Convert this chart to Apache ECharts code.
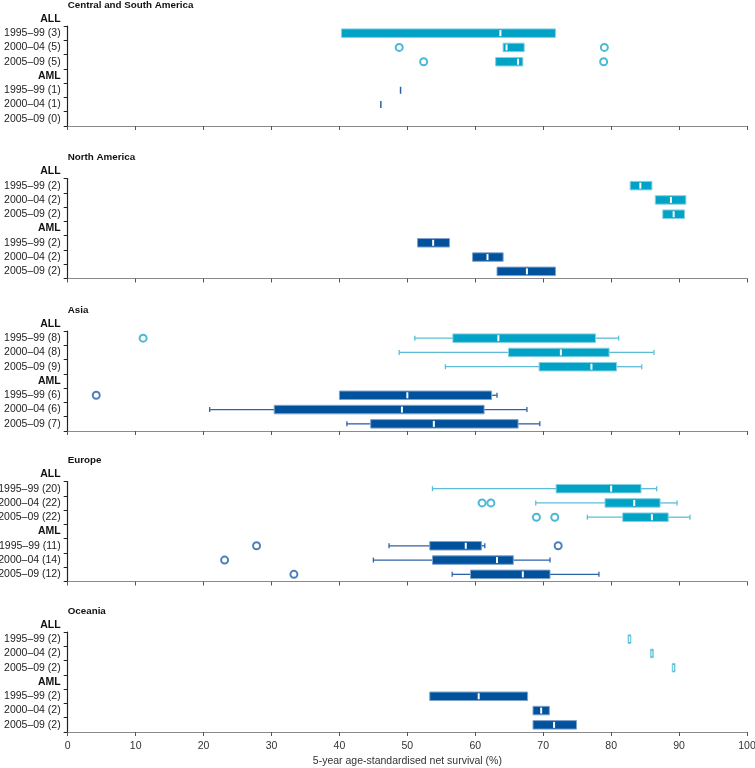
<!DOCTYPE html>
<html>
<head>
<meta charset="utf-8">
<script src="https://cdn.jsdelivr.net/npm/echarts@6/dist/echarts.min.js"></script>
<style>html,body{margin:0;padding:0;background:#fff}#c{width:755px;height:768px}</style>
</head>
<body>
<div id="c"></div>
<script>
// ---------- DATA ----------
const regions = ['Central and South America', 'North America', 'Asia', 'Europe', 'Oceania'];
const rowLabels = [
  ['1995–99 (3)', '2000–04 (5)', '2005–09 (5)', 'AML', '1995–99 (1)', '2000–04 (1)', '2005–09 (0)'],
  ['1995–99 (2)', '2000–04 (2)', '2005–09 (2)', 'AML', '1995–99 (2)', '2000–04 (2)', '2005–09 (2)'],
  ['1995–99 (8)', '2000–04 (8)', '2005–09 (9)', 'AML', '1995–99 (6)', '2000–04 (6)', '2005–09 (7)'],
  ['1995–99 (20)', '2000–04 (22)', '2005–09 (22)', 'AML', '1995–99 (11)', '2000–04 (14)', '2005–09 (12)'],
  ['1995–99 (2)', '2000–04 (2)', '2005–09 (2)', 'AML', '1995–99 (2)', '2000–04 (2)', '2005–09 (2)']
];
const xTicks = [0, 10, 20, 30, 40, 50, 60, 70, 80, 90, 100];
const xTitle = '5-year age-standardised net survival (%)';

// box rows: [row index, low whisker, Q1, median, Q3, high whisker]
const csaAll = [[0, 40.3, 40.3, 63.7, 71.8, 71.8], [1, 64.1, 64.1, 64.6, 67.2, 67.2], [2, 63.0, 63.0, 66.3, 67.0, 67.0]];
const csaAml = [[4, 49.0, 49.0, 49.0, 49.0, 49.0], [5, 46.1, 46.1, 46.1, 46.1, 46.1]];
const naAll = [[0, 82.8, 82.8, 84.3, 86.0, 86.0], [1, 86.5, 86.5, 88.8, 91.0, 91.0], [2, 87.6, 87.6, 89.2, 90.8, 90.8]];
const naAml = [[4, 51.5, 51.5, 53.8, 56.2, 56.2], [5, 59.6, 59.6, 61.8, 64.1, 64.1], [6, 63.2, 63.2, 67.6, 71.8, 71.8]];
const asiaAll = [[0, 51.1, 56.7, 63.4, 77.7, 81.1], [1, 48.8, 64.9, 72.6, 79.7, 86.3], [2, 55.6, 69.4, 77.1, 80.8, 84.5]];
const asiaAml = [[4, 40.0, 40.0, 50.0, 62.4, 63.2], [5, 20.9, 30.4, 49.2, 61.3, 67.6], [6, 41.1, 44.6, 53.9, 66.3, 69.5]];
const euAll = [[0, 53.7, 71.9, 80.0, 84.4, 86.7], [1, 68.9, 79.1, 83.4, 87.2, 89.7], [2, 76.5, 81.7, 86.0, 88.4, 91.6]];
const euAml = [[4, 47.3, 53.3, 58.6, 60.9, 61.4], [5, 45.0, 53.7, 63.2, 65.6, 71.0], [6, 56.6, 59.3, 67.0, 71.0, 78.2]];
const ocAll = [[0, 82.5, 82.5, 82.7, 82.9, 82.9], [1, 85.8, 85.8, 86.0, 86.2, 86.2], [2, 89.0, 89.0, 89.2, 89.4, 89.4]];
const ocAml = [[4, 53.3, 53.3, 60.5, 67.7, 67.7], [5, 68.5, 68.5, 69.7, 70.9, 70.9], [6, 68.5, 68.5, 71.6, 74.9, 74.9]];

// outliers: [value, row index]
const csaAllOut = [[48.8, 1], [79.0, 1], [52.4, 2], [78.9, 2]];
const csaAmlOut = [];
const naAllOut = [];
const naAmlOut = [];
const asiaAllOut = [[11.1, 0]];
const asiaAmlOut = [[4.2, 4]];
const euAllOut = [[61.0, 1], [62.3, 1], [69.0, 2], [71.7, 2]];
const euAmlOut = [[27.8, 4], [72.2, 4], [23.1, 5], [33.3, 6]];
const ocAllOut = [];
const ocAmlOut = [];

const allBoxes = [csaAll, naAll, asiaAll, euAll, ocAll];
const amlBoxes = [csaAml, naAml, asiaAml, euAml, ocAml];
const allOut = [csaAllOut, naAllOut, asiaAllOut, euAllOut, ocAllOut];
const amlOut = [csaAmlOut, naAmlOut, asiaAmlOut, euAmlOut, ocAmlOut];

// ---------- STYLE ----------
const FONT = 'Liberation Sans';
const gridTops = [26, 178.5, 331, 481.5, 632];
const gridH = 100;
const GL = 67.7, GR = 8;
const styleAll = { fill: '#00a2c5', border: '#86d0e3', whisker: '#5dbdd8', out: '#1ea6cc' };
const styleAml = { fill: '#00529c', border: '#7fa2cc', whisker: '#2c62a8', out: '#2060aa' };

function makeRender(st) {
  return function (params, api) {
    const row = api.value(0);
    const lo = api.value(1), q1 = api.value(2), med = api.value(3), q3 = api.value(4), hi = api.value(5);
    const y = api.coord([0, row])[1];
    const px = v => api.coord([v, row])[0];
    const h = 8.5;
    const ch = [];
    if (lo < q1) {
      ch.push({ type: 'line', shape: { x1: px(lo), y1: y, x2: px(q1), y2: y }, style: { stroke: st.whisker, lineWidth: 1.3 } });
      ch.push({ type: 'line', shape: { x1: px(lo), y1: y - 2.5, x2: px(lo), y2: y + 2.5 }, style: { stroke: st.whisker, lineWidth: 1.3 } });
    }
    if (hi > q3) {
      ch.push({ type: 'line', shape: { x1: px(q3), y1: y, x2: px(hi), y2: y }, style: { stroke: st.whisker, lineWidth: 1.3 } });
      ch.push({ type: 'line', shape: { x1: px(hi), y1: y - 2.5, x2: px(hi), y2: y + 2.5 }, style: { stroke: st.whisker, lineWidth: 1.3 } });
    }
    if (q3 > q1) {
      const x1 = px(q1), x2 = px(q3);
      ch.push({ type: 'rect', shape: { x: x1, y: y - h / 2, width: x2 - x1, height: h }, style: { fill: st.fill, stroke: st.border, lineWidth: 1 } });
      const mw = Math.min(2, Math.max(1, (x2 - x1) - 1.5));
      ch.push({ type: 'rect', shape: { x: px(med) - mw / 2, y: y - 3, width: mw, height: 6 }, style: { fill: '#ffffff' } });
    } else {
      ch.push({ type: 'rect', shape: { x: px(med) - 0.75, y: y - 3.5, width: 1.5, height: 7 }, style: { fill: st.whisker } });
    }
    return { type: 'group', children: ch };
  };
}

const grids = [], xAxes = [], yAxes = [], series = [], graphics = [];
regions.forEach((name, i) => {
  const top = gridTops[i];
  const last = i === regions.length - 1;
  grids.push({ left: GL, right: GR, top: top, height: gridH, containLabel: false, outerBoundsMode: 'none' });
  xAxes.push({
    type: 'value', gridIndex: i, min: xTicks[0], max: xTicks[xTicks.length - 1], interval: 10,
    splitLine: { show: false },
    axisLine: { show: true, lineStyle: { color: '#8a8a8a', width: 1.2 } },
    axisTick: { show: true, length: 4, lineStyle: { color: '#555', width: 1 } },
    axisLabel: { show: last, fontFamily: FONT, fontSize: 10.5, color: '#333', margin: 9 },
    name: last ? xTitle : '', nameLocation: 'middle', nameGap: 24,
    nameTextStyle: { fontFamily: FONT, fontSize: 10.5, color: '#333' }
  });
  yAxes.push({
    type: 'category', gridIndex: i, inverse: true, data: rowLabels[i],
    axisLine: { show: true, lineStyle: { color: '#222', width: 1.2 } },
    axisTick: { show: true, length: 4, interval: 0, lineStyle: { color: '#222' } },
    axisLabel: {
      interval: 0, fontFamily: FONT, fontSize: 10.5, color: '#222', margin: 7,
      formatter: v => v === 'AML' ? '{b|AML}' : v,
      rich: { b: { fontFamily: FONT, fontSize: 10.5, fontWeight: 'bold', color: '#111' } }
    },
    splitLine: { show: false }
  });
  series.push({ type: 'custom', xAxisIndex: i, yAxisIndex: i, renderItem: makeRender(styleAll), data: allBoxes[i], encode: { x: [1, 2, 3, 4, 5], y: 0 }, silent: true });
  series.push({ type: 'custom', xAxisIndex: i, yAxisIndex: i, renderItem: makeRender(styleAml), data: amlBoxes[i], encode: { x: [1, 2, 3, 4, 5], y: 0 }, silent: true });
  series.push({ type: 'scatter', xAxisIndex: i, yAxisIndex: i, data: allOut[i], symbol: 'emptyCircle', symbolSize: 7, itemStyle: { color: styleAll.out, borderWidth: 1.4 }, silent: true });
  series.push({ type: 'scatter', xAxisIndex: i, yAxisIndex: i, data: amlOut[i], symbol: 'emptyCircle', symbolSize: 7, itemStyle: { color: styleAml.out, borderWidth: 1.4 }, silent: true });
  graphics.push({ type: 'text', x: GL, y: Math.max(5.5, top - 21), style: { text: name, font: 'bold 9.8px "Liberation Sans"', fill: '#111', textAlign: 'left', textVerticalAlign: 'middle' } });
  graphics.push({ type: 'text', x: GL - 7, y: top - 7, style: { text: 'ALL', font: 'bold 10.5px "Liberation Sans"', fill: '#111', textAlign: 'right', textVerticalAlign: 'middle' } });
});

const chart = echarts.init(document.getElementById('c'), null, { renderer: 'canvas' });
chart.setOption({
  animation: false,
  backgroundColor: '#fff',
  grid: grids, xAxis: xAxes, yAxis: yAxes, series: series, graphic: graphics
});
</script>
</body>
</html>
